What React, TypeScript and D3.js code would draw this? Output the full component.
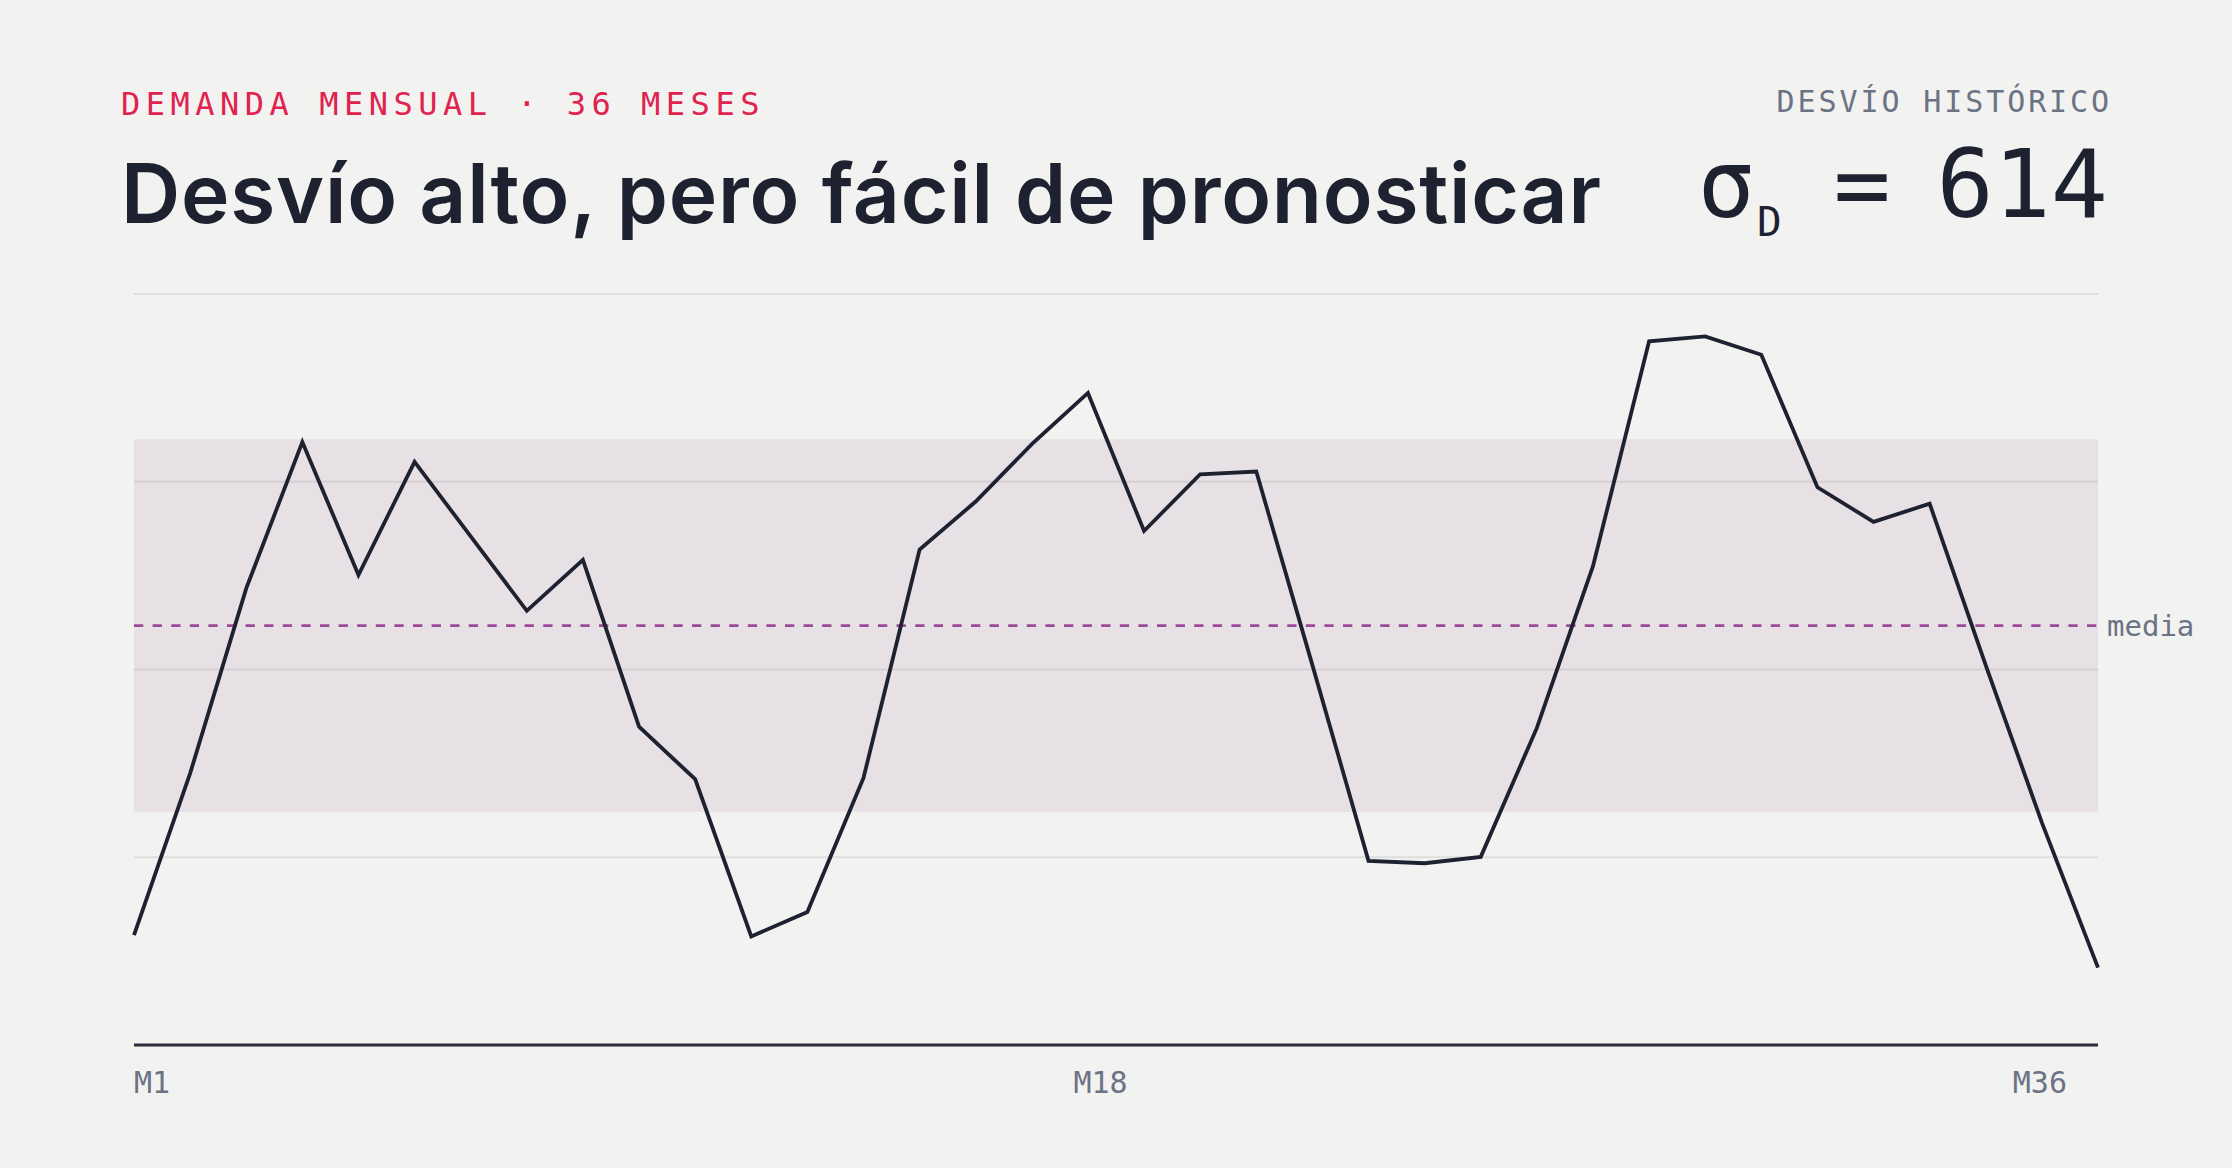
import React from "react";
import * as d3 from "d3";

// ---- data ----
const months = d3.range(1, 37);
const demand = [
  1862, 2395, 3005, 3487, 3049, 3422, 3176, 2931, 3099, 2549, 2376, 1858,
  1938, 2380, 3133, 3291, 3480, 3649, 3194, 3381, 3390, 2752, 2107, 2099,
  2120, 2545, 3078, 3819, 3835, 3775, 3338, 3224, 3284, 2751, 2233, 1755,
];
const yDomain = [1500, 3975];
const tickMonths = [1, 18, 36];
const tickLabels = ["M1", "M18", "M36"];
const kicker = "DEMANDA MENSUAL · 36 MESES";
const title = "Desvío alto, pero fácil de pronosticar";
const statLabel = "DESVÍO HISTÓRICO";
const meanLabel = "media";

const W = 2232;
const H = 1168;
const M = { left: 134, right: 2098, top: 294, bottom: 1045 };

const C = {
  bg: "#f2f2f0",
  ink: "#1e2130",
  red: "#e0234e",
  gray: "#6b7385",
  band: "#e7e1e5",
  grid: "rgba(30,33,48,0.09)",
  mean: "#9c4a97",
};
const MONO = "'DejaVu Sans Mono', 'Liberation Mono', monospace";
const SANS = "Inter, 'Noto Sans', sans-serif";

export default function App() {
  const x = d3.scaleLinear().domain([1, 36]).range([M.left, M.right]);
  const y = d3.scaleLinear().domain(yDomain).range([M.bottom, M.top]);
  const mean = d3.mean(demand) as number;
  const sigma = d3.deviation(demand) as number;
  const line = d3
    .line<number>()
    .x((_, i) => x(months[i]))
    .y((d) => y(d));
  const grid = d3.range(1, 5).map((i) => yDomain[0] + (i * (yDomain[1] - yDomain[0])) / 4);

  const tickX = [M.left, (M.left + M.right - 31) / 2, M.right - 31];
  const tickAnchor = ["start", "middle", "end"];

  return (
    <div style={{ position: "fixed", left: 0, top: 0, width: W, height: H, background: C.bg }}>
      <svg width={W} height={H} viewBox={`0 0 ${W} ${H}`}>
        <rect width={W} height={H} fill={C.bg} />
        {/* header */}
        <text x={121} y={115} fill={C.red} fontFamily={MONO} fontSize={32} letterSpacing={5.5}>
          {kicker}
        </text>
        <text
          x={121}
          y={223}
          fill={C.ink}
          fontFamily={SANS}
          fontSize={82}
          fontWeight={600}
          textLength={1480}
          lengthAdjust="spacing"
        >
          {title}
        </text>
        <text x={2112} y={112} fill={C.gray} fontFamily={MONO} fontSize={30} letterSpacing={2.9} textAnchor="end">
          {statLabel}
        </text>
        <text x={1726} y={217} fill={C.ink} fontFamily={MONO} fontSize={95} textAnchor="middle">
          σ
        </text>
        <text x={1757} y={236} fill={C.ink} fontFamily={MONO} fontSize={41}>
          D
        </text>
        <text x={1862} y={217} fill={C.ink} fontFamily={MONO} fontSize={95} textAnchor="middle">
          =
        </text>
        <text x={2108} y={217} fill={C.ink} fontFamily={MONO} fontSize={95} textAnchor="end">
          {Math.round(sigma)}
        </text>

        {/* band mean ± sigma */}
        <rect
          x={M.left}
          width={M.right - M.left}
          y={y(mean + sigma)}
          height={y(mean - sigma) - y(mean + sigma)}
          fill={C.band}
        />
        {/* gridlines */}
        {grid.map((g, i) => (
          <line key={i} x1={M.left} x2={M.right} y1={y(g)} y2={y(g)} stroke={C.grid} strokeWidth={2} />
        ))}
        {/* mean line */}
        <line
          x1={M.left}
          x2={M.right}
          y1={y(mean)}
          y2={y(mean)}
          stroke={C.mean}
          strokeWidth={2.6}
          strokeDasharray="9.3 9.3"
        />
        <text x={M.right + 9} y={y(mean) + 10} fill={C.gray} fontFamily={MONO} fontSize={29}>
          {meanLabel}
        </text>
        {/* x axis */}
        <line x1={M.left} x2={M.right} y1={M.bottom} y2={M.bottom} stroke="#2a2d3b" strokeWidth={2.8} />
        {tickMonths.map((m, i) => (
          <text
            key={m}
            x={tickX[i]}
            y={1093}
            fill={C.gray}
            fontFamily={MONO}
            fontSize={30}
            textAnchor={tickAnchor[i] as any}
          >
            {tickLabels[i]}
          </text>
        ))}
        {/* demand line */}
        <path d={line(demand) || ""} fill="none" stroke={C.ink} strokeWidth={3.8} strokeLinejoin="miter" />
      </svg>
    </div>
  );
}
